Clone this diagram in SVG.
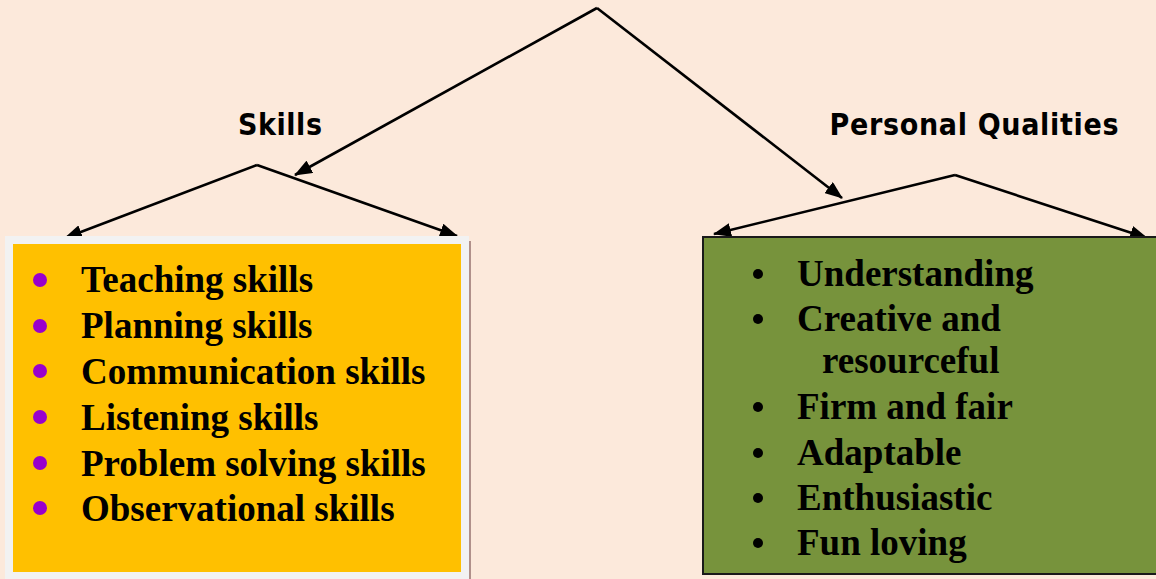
<svg xmlns="http://www.w3.org/2000/svg" width="1156" height="579" viewBox="0 0 1156 579">
  <defs>
    <marker id="arrow" viewBox="0 0 18 14" refX="17" refY="7" markerWidth="18" markerHeight="14" markerUnits="userSpaceOnUse" orient="auto">
      <path d="M0,0 L18,7 L0,14 z" fill="#000"/>
    </marker>
    <style>
      .conn { fill: none; stroke: #000; stroke-width: 2.6; marker-end: url(#arrow); }
      .head { font-family: "DejaVu Sans Condensed", "DejaVu Sans", Tahoma, sans-serif; font-weight: bold; font-size: 30px; fill: #000; }
      .item { font-family: "Liberation Serif", "Times New Roman", serif; font-weight: bold; font-size: 37px; fill: #000; }
      .pdot { fill: #9900CC; }
      .kdot { fill: #000; }
    </style>
  </defs>
  <rect width="1156" height="579" fill="#FCE9DB"/>

  <!-- connectors -->
  <g id="connectors">
    <line class="conn" x1="597" y1="8" x2="295" y2="175"/>
    <line class="conn" x1="597" y1="8" x2="842" y2="198"/>
    <line class="conn" x1="257" y1="165" x2="65" y2="238"/>
    <line class="conn" x1="257" y1="165" x2="457" y2="236"/>
    <line class="conn" x1="955" y1="175" x2="714" y2="234"/>
    <line class="conn" x1="955" y1="175" x2="1147" y2="238"/>
  </g>

  <!-- heading labels -->
  <g id="label-skills"><text class="head" x="280" y="135" text-anchor="middle" textLength="84">Skills</text></g>
  <g id="label-qualities"><text class="head" x="974" y="135" text-anchor="middle" textLength="289">Personal Qualities</text></g>

  <!-- skills box -->
  <g id="skills-box">
    <rect x="469" y="241" width="2" height="338" fill="#B0908A"/>
    <rect x="5" y="236" width="464" height="343" fill="#F2F2F2"/>
    <rect x="13" y="244" width="448" height="328" fill="#FFC000"/>
    <circle class="pdot" cx="40" cy="280" r="7"/>
    <circle class="pdot" cx="40" cy="326" r="7"/>
    <circle class="pdot" cx="40" cy="371" r="7"/>
    <circle class="pdot" cx="40" cy="417" r="7"/>
    <circle class="pdot" cx="40" cy="463" r="7"/>
    <circle class="pdot" cx="40" cy="508" r="7"/>
    <text class="item" x="81" y="292">Teaching skills</text>
    <text class="item" x="81" y="338">Planning skills</text>
    <text class="item" x="81" y="384">Communication skills</text>
    <text class="item" x="81" y="430">Listening skills</text>
    <text class="item" x="81" y="476">Problem solving skills</text>
    <text class="item" x="81" y="521">Observational skills</text>
  </g>

  <!-- personal qualities box -->
  <g id="qualities-box">
    <rect x="703" y="237" width="460" height="337" fill="#77933C" stroke="#1a1a1a" stroke-width="2"/>
    <circle class="kdot" cx="758" cy="274" r="5"/>
    <circle class="kdot" cx="758" cy="319" r="5"/>
    <circle class="kdot" cx="758" cy="407" r="5"/>
    <circle class="kdot" cx="758" cy="453" r="5"/>
    <circle class="kdot" cx="758" cy="498" r="5"/>
    <circle class="kdot" cx="758" cy="543" r="5"/>
    <text class="item" x="797" y="286">Understanding</text>
    <text class="item" x="797" y="331">Creative and</text>
    <text class="item" x="822" y="373">resourceful</text>
    <text class="item" x="797" y="419">Firm and fair</text>
    <text class="item" x="797" y="465">Adaptable</text>
    <text class="item" x="797" y="510">Enthusiastic</text>
    <text class="item" x="797" y="555">Fun loving</text>
  </g>
</svg>
